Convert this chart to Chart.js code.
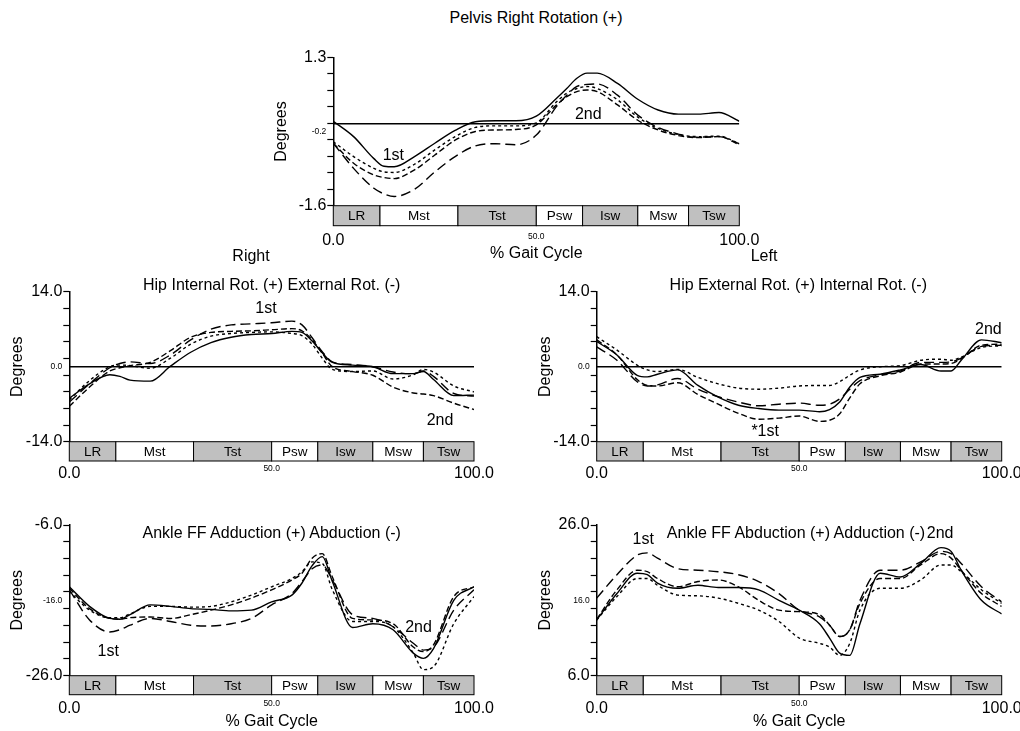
<!DOCTYPE html>
<html>
<head>
<meta charset="utf-8">
<script src="https://cdn.jsdelivr.net/npm/chart.js@4.4.0/dist/chart.umd.min.js"></script>
<style>
  html, body { margin: 0; padding: 0; background: #fff; }
  #page { position: relative; width: 1020px; height: 731px; overflow: hidden; background: #fff;
          font-family: 'Liberation Sans', Arial, sans-serif; }
  #page canvas { position: absolute; }
  .lbl { position: absolute; transform: translate(-50%, -50%); white-space: nowrap;
         font-size: 16px; line-height: 1; color: #000; z-index: 2; }
</style>
</head>
<body>
<div id="page">
  <div class="lbl" style="left:536px;top:18px">Pelvis Right Rotation (+)</div>
  <div class="lbl" style="left:251px;top:256px">Right</div>
  <div class="lbl" style="left:764px;top:256px">Left</div>
  <div class="lbl" style="left:271.7px;top:285px">Hip Internal Rot. (+) External Rot. (-)</div>
  <div class="lbl" style="left:798.3px;top:285px">Hip External Rot. (+) Internal Rot. (-)</div>
  <div class="lbl" style="left:271.7px;top:533px">Ankle FF Adduction (+) Abduction (-)</div>
  <div class="lbl" style="left:796px;top:533px">Ankle FF Abduction (+) Adduction (-)</div>
</div>
<script>
// ---------- Data ----------
const gaitPct = [0, 5, 10, 12.5, 15, 20, 25, 30, 35, 40, 45, 50, 55, 57.5, 60, 62.5, 65, 70, 75, 80, 85, 87.5, 90, 95, 100];
const xTickValues = [0, 50, 100];
const phaseNames = ['LR', 'Mst', 'Tst', 'Psw', 'Isw', 'Msw', 'Tsw'];
const phaseEdges = [0, 11.5, 30.7, 50, 61.4, 75, 87.5, 100];

// Pelvis rotation
const pelvisSolid = [0.05, -0.25, -0.68, -0.83, -0.84, -0.64, -0.38, -0.13, 0.04, 0.06, 0.06, 0.15, 0.50, 0.69, 0.89, 0.99, 0.99, 0.79, 0.48, 0.27, 0.19, 0.19, 0.19, 0.22, 0.05];
const pelvisShort = [-0.35, -0.64, -0.87, -0.94, -0.95, -0.79, -0.51, -0.25, -0.07, -0.04, -0.04, 0.02, 0.43, 0.60, 0.69, 0.73, 0.69, 0.47, 0.13, -0.09, -0.21, -0.24, -0.25, -0.24, -0.39];
const pelvisMed = [-0.38, -0.77, -1.00, -1.05, -1.07, -0.90, -0.61, -0.32, -0.15, -0.12, -0.11, -0.02, 0.37, 0.53, 0.63, 0.66, 0.63, 0.37, 0.07, -0.12, -0.23, -0.26, -0.27, -0.25, -0.41];
const pelvisLong = [-0.38, -0.87, -1.26, -1.37, -1.42, -1.28, -0.94, -0.64, -0.43, -0.39, -0.41, -0.22, 0.34, 0.56, 0.73, 0.77, 0.78, 0.56, 0.17, -0.07, -0.20, -0.25, -0.26, -0.25, -0.39];
const pelvisNotes = [{ text: '1st', x: 14.8, y: -0.63 }, { text: '2nd', x: 62.8, y: 0.19 }];

// Right hip rotation
const hipRSolid = [-5.9, -3.2, -1.5, -1.8, -2.5, -2.7, 0.1, 2.7, 4.5, 5.5, 6.0, 6.2, 6.6, 6.4, 4.8, 2.6, 0.8, 0.3, 0.0, -1.3, -1.3, -0.9, -2.4, -5.4, -5.3];
const hipRLong = [-6.6, -3.2, -0.2, 0.6, 0.9, 0.6, 2.2, 5.0, 7.0, 7.8, 8.0, 8.2, 8.5, 7.8, 5.4, 2.8, 0.9, 0.4, 0.0, -1.0, -1.3, -0.8, -1.8, -5.0, -5.5];
const hipRMed = [-7.4, -3.8, -0.8, -0.2, 0.2, 0.8, 3.0, 5.5, 6.4, 6.6, 6.7, 6.9, 7.1, 6.7, 5.0, 2.5, 0.0, -0.9, -1.6, -3.8, -4.9, -5.1, -5.4, -6.8, -8.0];
const hipRShort = [-6.2, -2.6, 0.0, 0.3, 0.2, -0.3, 1.6, 4.2, 5.7, 6.2, 6.4, 6.5, 6.2, 5.8, 4.2, 1.6, -0.5, -0.9, -0.8, -2.3, -1.5, -0.5, -1.0, -3.6, -4.7];
const hipRNotes = [{ text: '1st', x: 48.6, y: 10.9 }, { text: '2nd', x: 91.6, y: -10.0 }];

// Left hip rotation
const hipLSolid = [4.7, 2.2, -1.6, -1.9, -1.4, -0.6, -3.5, -5.7, -7.2, -7.8, -8.1, -8.1, -8.4, -8.0, -6.6, -3.8, -2.0, -1.4, -0.6, 0.4, -0.8, -0.8, 1.2, 5.0, 4.5];
const hipLShort = [5.6, 3.1, 0.3, -0.6, -0.9, -0.5, -2.0, -3.2, -4.0, -4.2, -4.0, -3.6, -3.5, -3.5, -2.8, -1.6, -0.6, 0.0, 0.2, 1.2, 1.4, 1.2, 1.8, 3.6, 3.9];
const hipLMed = [5.0, 2.2, -2.4, -3.5, -3.6, -3.0, -5.2, -7.0, -8.7, -9.8, -9.6, -9.2, -10.2, -10.0, -8.8, -5.8, -3.2, -1.7, -1.0, 0.5, 0.5, 0.6, 1.5, 4.0, 4.2];
const hipLLong = [3.7, 1.2, -2.8, -3.6, -3.4, -2.2, -4.2, -5.6, -6.6, -7.3, -7.0, -6.8, -7.2, -7.0, -6.0, -4.2, -2.6, -1.5, -0.8, 0.8, 0.8, 0.9, 1.6, 3.8, 4.0];
const hipLNotes = [{ text: '*1st', x: 41.6, y: -12.1 }, { text: '2nd', x: 96.7, y: 6.85 }];

// Right ankle foot progression
const ankleRSolid = [-14.2, -16.8, -18.4, -18.5, -17.9, -16.6, -16.8, -17.1, -17.2, -17.4, -17.3, -16.2, -15.3, -13.7, -11.4, -10.2, -13.5, -19.6, -19.1, -19.9, -23.0, -23.7, -22.4, -16.0, -14.2];
const ankleRLong = [-14.6, -18.6, -20.2, -19.9, -19.3, -18.4, -18.8, -19.3, -19.4, -19.1, -18.4, -16.6, -15.1, -13.5, -11.8, -11.3, -13.3, -17.9, -18.4, -19.5, -21.7, -22.6, -22.2, -17.3, -14.6];
const ankleRShort = [-14.8, -17.3, -18.3, -18.3, -17.8, -16.8, -16.8, -16.9, -16.8, -16.2, -15.3, -14.2, -13.1, -12.2, -10.9, -11.1, -14.6, -18.8, -18.8, -19.5, -23.0, -25.2, -24.8, -19.1, -15.5];
const ankleRMed = [-14.4, -17.1, -18.4, -18.5, -18.3, -18.2, -18.4, -17.9, -17.3, -16.6, -15.7, -14.6, -13.3, -12.4, -10.4, -9.8, -12.9, -18.4, -18.6, -19.1, -22.2, -22.8, -21.9, -15.5, -14.2];
const ankleRNotes = [{ text: '1st', x: 9.6, y: -22.8 }, { text: '2nd', x: 86.3, y: -19.6 }];

// Left ankle foot progression
const ankleLSolid = [13.4, 16.9, 19.6, 19.4, 18.3, 17.6, 18.0, 17.7, 17.7, 17.4, 16.0, 14.7, 12.9, 11.0, 9.0, 8.7, 12.9, 19.6, 19.1, 20.9, 23.0, 22.5, 20.0, 16.0, 14.2];
const ankleLLong = [16.3, 19.4, 22.0, 22.3, 21.6, 20.2, 20.0, 19.8, 19.4, 18.5, 16.9, 14.7, 13.8, 12.7, 11.2, 12.1, 16.0, 20.0, 20.0, 21.1, 22.5, 22.2, 20.9, 17.8, 15.8];
const ankleLMed = [13.5, 17.4, 20.0, 19.8, 18.9, 17.8, 18.5, 18.7, 17.8, 16.0, 14.7, 14.5, 14.1, 12.7, 11.2, 12.1, 15.6, 18.9, 18.9, 20.7, 22.2, 21.6, 20.0, 16.9, 15.2];
const ankleLShort = [13.4, 16.5, 18.9, 18.9, 18.0, 16.7, 16.6, 16.3, 15.6, 14.7, 13.2, 11.0, 10.3, 9.8, 8.7, 10.3, 14.7, 17.6, 17.6, 18.7, 20.7, 20.7, 19.8, 17.4, 15.6];
const ankleLNotes = [{ text: '1st', x: 11.5, y: 24.1 }, { text: '2nd', x: 84.8, y: 24.8 }];

// ---------- Layout / style ----------
const FONT = "'Liberation Sans', Arial, sans-serif";
const DASH = { solid: [], long: [10, 5], med: [6, 3], short: [3, 3] };
const page = document.getElementById('page');
const near = (a, b) => Math.abs(a - b) < 1e-6;

const panels = [
  { left: 333.3, top: 57.3, right: 739.3, bottom: 205.7, barH: 20, xBand: 57.2, tickPad: 25.5, xTitle: true,
    min: -1.6, max: 1.3, minLabel: '-1.6', maxLabel: '1.3', midLabel: '-0.2', ref: true,
    series: [['long', pelvisLong], ['med', pelvisMed], ['short', pelvisShort], ['solid', pelvisSolid]], notes: pelvisNotes },
  { left: 69.3, top: 291.7, right: 474, bottom: 441.7, barH: 19.3, xBand: 45, tickPad: 22, xTitle: false,
    min: -14, max: 14, minLabel: '-14.0', maxLabel: '14.0', midLabel: '0.0', ref: true,
    series: [['long', hipRLong], ['med', hipRMed], ['short', hipRShort], ['solid', hipRSolid]], notes: hipRNotes },
  { left: 596.7, top: 291.7, right: 1001.7, bottom: 441.7, barH: 19.3, xBand: 45, tickPad: 22, xTitle: false,
    min: -14, max: 14, minLabel: '-14.0', maxLabel: '14.0', midLabel: '0.0', ref: true,
    series: [['long', hipLLong], ['med', hipLMed], ['short', hipLShort], ['solid', hipLSolid]], notes: hipLNotes },
  { left: 69.3, top: 525, right: 474, bottom: 675.7, barH: 19, xBand: 55.6, tickPad: 23, xTitle: true,
    min: -26, max: -6, minLabel: '-26.0', maxLabel: '-6.0', midLabel: '-16.0', ref: false,
    series: [['long', ankleRLong], ['med', ankleRMed], ['short', ankleRShort], ['solid', ankleRSolid]], notes: ankleRNotes },
  { left: 596.7, top: 525, right: 1001.7, bottom: 675.7, barH: 19, xBand: 55.6, tickPad: 23, xTitle: true,
    min: 6, max: 26, minLabel: '6.0', maxLabel: '26.0', midLabel: '16.0', ref: false,
    series: [['long', ankleLLong], ['med', ankleLMed], ['short', ankleLShort], ['solid', ankleLSolid]], notes: ankleLNotes }
];

function makePanel(p) {
  const W = 61; // y axis band incl. "Degrees"
  const cl = Math.round(p.left) - 80;
  const ct = Math.round(p.top) - 20;
  // x tick padding is added to the label overhang, so leave room on the right
  const cw = Math.round(p.right) + 60 - cl;
  const ch = Math.round(p.bottom + p.xBand) + 10 - ct;
  const canvas = document.createElement('canvas');
  canvas.width = cw;
  canvas.height = ch;
  canvas.style.left = cl + 'px';
  canvas.style.top = ct + 'px';
  canvas.style.width = cw + 'px';
  canvas.style.height = ch + 'px';
  page.appendChild(canvas);

  const mid = (p.min + p.max) / 2;
  const yTicks = [];
  for (let i = 0; i <= 9; i++) yTicks.push(p.min + i * (p.max - p.min) / 9);
  yTicks.push(mid);
  yTicks.sort((a, b) => a - b);

  const datasets = p.series.map(([style, vals]) => ({
    data: gaitPct.map((x, i) => ({ x, y: vals[i] })),
    borderColor: '#000',
    borderWidth: 1.4,
    borderDash: DASH[style],
    pointRadius: 0,
    cubicInterpolationMode: 'monotone'
  }));
  if (p.ref) {
    datasets.unshift({
      data: [{ x: 0, y: 0 }, { x: 100, y: 0 }],
      borderColor: '#000', borderWidth: 1.5, pointRadius: 0
    });
  }

  // phase bar + annotations
  const extras = {
    id: 'extras',
    afterDraw(chart) {
      const ctx = chart.ctx;
      const xs = chart.scales.x, ys = chart.scales.y;
      const top = chart.chartArea.bottom;
      ctx.save();
      ctx.lineWidth = 1;
      ctx.strokeStyle = '#000';
      ctx.textAlign = 'center';
      ctx.textBaseline = 'middle';
      ctx.font = `13.5px ${FONT}`;
      for (let i = 0; i < phaseNames.length; i++) {
        const x0 = xs.getPixelForValue(phaseEdges[i]);
        const x1 = xs.getPixelForValue(phaseEdges[i + 1]);
        ctx.fillStyle = i % 2 === 0 ? '#c0c0c0' : '#fff';
        ctx.fillRect(x0, top, x1 - x0, p.barH);
        ctx.strokeRect(x0, top, x1 - x0, p.barH);
        ctx.fillStyle = '#000';
        ctx.fillText(phaseNames[i], (x0 + x1) / 2, top + p.barH / 2 + 1);
      }
      ctx.font = `16px ${FONT}`;
      p.notes.forEach(n => ctx.fillText(n.text, xs.getPixelForValue(n.x), ys.getPixelForValue(n.y)));
      ctx.restore();
    }
  };

  new Chart(canvas, {
    type: 'line',
    data: { datasets },
    plugins: [extras],
    options: {
      responsive: false,
      animation: false,
      devicePixelRatio: 1,
      events: [],
      layout: {
        padding: {
          left: p.left - cl - W,
          top: p.top - ct,
          right: cl + cw - p.right,
          bottom: ct + ch - (p.bottom + p.xBand)
        }
      },
      plugins: { legend: { display: false }, tooltip: { enabled: false }, title: { display: false } },
      scales: {
        x: {
          type: 'linear', min: 0, max: 100,
          grid: { display: false, drawTicks: false },
          border: { display: false },
          afterBuildTicks: s => { s.ticks = xTickValues.map(v => ({ value: v })); },
          afterFit: s => { s.height = p.xBand; },
          ticks: {
            autoSkip: false, maxRotation: 0, padding: p.tickPad, color: '#000',
            font: c => ({ family: FONT, size: c.tick && c.tick.value === 50 ? 8.5 : 16 }),
            callback: v => v.toFixed(1)
          },
          title: { display: p.xTitle, text: '% Gait Cycle', color: '#000', padding: 0, font: { family: FONT, size: 16 } }
        },
        y: {
          type: 'linear', min: p.min, max: p.max,
          grid: {
            display: true, drawOnChartArea: false, drawTicks: true, tickLength: 6, tickWidth: 1.2,
            tickColor: c => (c.tick && near(c.tick.value, mid)) ? 'rgba(0,0,0,0)' : '#000'
          },
          border: { display: true, color: '#000', width: 1.5 },
          afterBuildTicks: s => { s.ticks = yTicks.map(v => ({ value: v })); },
          afterFit: s => { s.width = W; },
          ticks: {
            autoSkip: false, padding: 1, color: '#000',
            font: c => ({ family: FONT, size: c.tick && near(c.tick.value, mid) ? 8.5 : 16 }),
            callback: v => near(v, p.max) ? p.maxLabel : near(v, p.min) ? p.minLabel : near(v, mid) ? p.midLabel : ''
          },
          title: { display: true, text: 'Degrees', color: '#000', padding: 0, font: { family: FONT, size: 16 } }
        }
      }
    }
  });
}

panels.forEach(makePanel);
</script>
</body>
</html>
